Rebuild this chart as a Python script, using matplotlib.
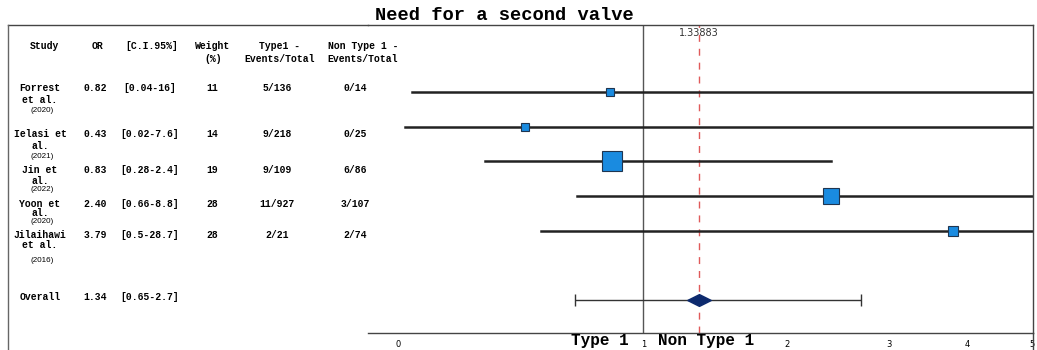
import numpy as np
import matplotlib
matplotlib.use("Agg")
import matplotlib.pyplot as plt
from matplotlib.lines import Line2D
from matplotlib.path import Path

# data
studies = ["Forrest\net al.", "Ielasi et\nal.", "Jin et\nal.", "Yoon et\nal.", "Jilaihawi\net al."]
years = ["(2020)", "(2021)", "(2022)", "(2020)", "(2016)"]
odds = [0.82, 0.43, 0.83, 2.40, 3.79]
ci_lo = [0.04, 0.02, 0.28, 0.66, 0.5]
ci_hi = [16, 7.6, 2.4, 8.8, 28.7]
weights = [11, 14, 19, 28, 28]
type1_events = ["5/136", "9/218", "9/109", "11/927", "2/21"]
nontype1_events = ["0/14", "0/25", "6/86", "3/107", "2/74"]
overall_or = 1.33883
overall_lo = 0.65
overall_hi = 2.7
headers = ["Study", "OR", "[C.I.95%]", "Weight\n(%)", "Type1 -\nEvents/Total", "Non Type 1 -\nEvents/Total"]
xticks = [0, 1, 2, 3, 4, 5]

# marker sizes as drawn (pt)
box_sizes = [5.8, 5.8, 14.0, 11.5, 7.0]

W, H = 1037, 350
fig = plt.figure(figsize=(W / 100, H / 100), dpi=100)


def fx(x):
    return x / W


def fy(y):
    return 1 - y / H


mono = "Liberation Mono"
narrow = ["Liberation Sans Narrow", "DejaVu Sans"]

# forest plot axes
ax = fig.add_axes([fx(368), fy(333), fx(1033) - fx(368), fy(25) - fy(333)])
ax.set_xscale("function", functions=(np.log1p, np.expm1))
ax.set_xlim(-0.081, 5.012)
ax.set_ylim(6.94, -1.93)
ax.spines["left"].set_visible(False)
for s in ["top", "right", "bottom"]:
    ax.spines[s].set_color("#444444")
    ax.spines[s].set_linewidth(1)
ax.set_yticks([])
ax.set_xticks(xticks)
ax.set_xticklabels([str(t) for t in xticks], family=narrow, fontsize=6)
ax.tick_params(axis="x", length=0, pad=5)
ax.minorticks_off()

ax.axvline(1, color="#555555", lw=1, zorder=1)
ax.axvline(overall_or, color="#e05a5a", lw=1, ls=(0, (5, 5)), zorder=1)
ax.text(overall_or, -1.7, "%.5f" % overall_or, ha="center", va="center",
        family=narrow, fontsize=7, color="#333333")

rows = np.arange(len(studies))
for i in rows:
    ax.plot([ci_lo[i], ci_hi[i]], [i, i], color="#222222", lw=1.8, zorder=2)
    ax.plot(odds[i], i, marker="s", ms=box_sizes[i], mfc="#1a8be0",
            mec="#1f3550", mew=0.8, zorder=3)

# overall
orow = 6
ax.errorbar([overall_or], [orow], xerr=[[overall_or - overall_lo], [overall_hi - overall_or]],
            fmt="none", ecolor="#333333", elinewidth=1, capsize=4, capthick=1, zorder=2)
diamond = Path([(-1, 0), (0, 0.5), (1, 0), (0, -0.5), (-1, 0)])
ax.plot(overall_or, orow, marker=diamond, ms=17, mfc="#0d2a6e", mec="#0d2a6e", zorder=3)

# outer frame
fig.add_artist(Line2D([fx(8), fx(368)], [fy(25), fy(25)], color="#444444", lw=1))
fig.add_artist(Line2D([fx(8), fx(8)], [fy(25), fy(350)], color="#666666", lw=1))
fig.add_artist(Line2D([fx(1033), fx(1033)], [fy(333), fy(350)], color="#444444", lw=1))

# title
fig.text(fx(504), fy(15), "Need for a second valve", ha="center", va="center",
         family=mono, fontweight="bold", fontsize=13.5)

# table
header_x = [45, 97, 152, 213, 280, 363]
value_x = [40, 95, 150, 212, 277, 355]
row_y = [88, 134, 170, 204, 235]
line2_y = [100, 146, 181, 213, 245]
year_y = [110, 156, 190, 222, 260]
overall_y = 297

for j, h in enumerate(headers):
    parts = h.split("\n")
    for k, p in enumerate(parts):
        fig.text(fx(header_x[j]), fy(46 + 13 * k), p, ha="center", va="center",
                 family=mono, fontweight="bold", fontsize=7)

for i in rows:
    name = studies[i].split("\n")
    fig.text(fx(value_x[0]), fy(row_y[i]), name[0], ha="center", va="center",
             family=mono, fontweight="bold", fontsize=7)
    fig.text(fx(value_x[0]), fy(line2_y[i]), name[1], ha="center", va="center",
             family=mono, fontweight="bold", fontsize=7)
    fig.text(fx(value_x[0] + 2), fy(year_y[i]), years[i], ha="center", va="center",
             family="Liberation Sans", fontsize=5.8)
    vals = ["%.2f" % odds[i], "[%g-%g]" % (ci_lo[i], ci_hi[i]), str(weights[i]),
            type1_events[i], nontype1_events[i]]
    for j, v in enumerate(vals):
        fig.text(fx(value_x[j + 1]), fy(row_y[i]), v, ha="center", va="center",
                 family=mono, fontweight="bold", fontsize=7)

fig.text(fx(value_x[0]), fy(overall_y), "Overall", ha="center", va="center",
         family=mono, fontweight="bold", fontsize=7)
fig.text(fx(value_x[1]), fy(overall_y), "%.2f" % overall_or, ha="center", va="center",
         family=mono, fontweight="bold", fontsize=7)
fig.text(fx(value_x[2]), fy(overall_y), "[%g-%g]" % (overall_lo, overall_hi), ha="center",
         va="center", family=mono, fontweight="bold", fontsize=7)

# bottom side labels
fig.text(fx(629), fy(341), "Type 1", ha="right", va="center",
         family=mono, fontweight="bold", fontsize=11.5)
fig.text(fx(658), fy(341), "Non Type 1", ha="left", va="center",
         family=mono, fontweight="bold", fontsize=11.5)

fig.savefig("out.png", dpi=100)
